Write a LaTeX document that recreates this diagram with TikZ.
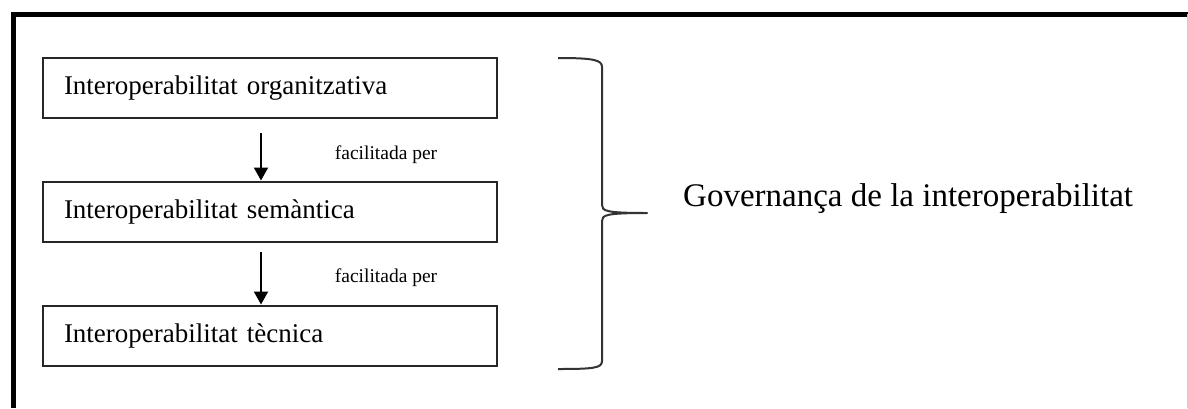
\documentclass[tikz,border=0pt]{standalone}
\usepackage{fontspec}
\setmainfont{Liberation Serif}
\usetikzlibrary{arrows.meta}
\tikzset{
  layerbox/.style={draw=black!85, line width=2pt, minimum width=454pt, minimum height=60pt,
    text width=412pt, inner xsep=21pt, align=left, font=\fontsize{27}{30}\selectfont},
  smalllabel/.style={font=\fontsize{19.5}{22}\selectfont, inner sep=0pt},
  arr/.style={line width=2pt, -{Triangle[length=13pt,width=14pt]}},
  bracestyle/.style={line width=2pt, draw=black!80, line join=round},
}
\begin{document}
\begin{tikzpicture}[x=1pt,y=-1pt]
\useasboundingbox (0,0) rectangle (1188,408);
\fill[white] (0,0) rectangle (1188,408);
% frame
\draw[line width=5pt] (13,408) -- (13,14.5) -- (1188,14.5);
\draw[black!20, line width=1pt] (1187.5,14) -- (1187.5,408);
% boxes
\node[layerbox] (b1) at (270,88) {Interoperabilitat organitzativa};
\node[layerbox] (b2) at (270,211.5) {Interoperabilitat semàntica};
\node[layerbox] (b3) at (270,335.5) {Interoperabilitat tècnica};
% arrows
\coordinate (a1) at (261,133);
\coordinate (a2) at (261,252);
\draw[arr] (a1) -- (a1 |- b2.north);
\draw[arr] (a2) -- (a2 |- b3.north);
\node[smalllabel] (f1) at (386,155) {facilitada per};
\node[smalllabel] (f2) at (386,278) {facilitada per};
% brace
\coordinate (tip) at (647,213);
\draw[bracestyle] (558,58) .. controls (594,58) and (602,60) .. (602,67) -- (602,205)
   .. controls (602,211) and (606,213) .. (tip)
   .. controls (606,213) and (602,215) .. (602,221) -- (602,361)
   .. controls (602,368) and (594,369) .. (558,369);
\node[anchor=west, inner sep=0pt, font=\fontsize{33}{36}\selectfont] (gov) at (683,199) {Governança de la interoperabilitat};
\end{tikzpicture}
\end{document}
